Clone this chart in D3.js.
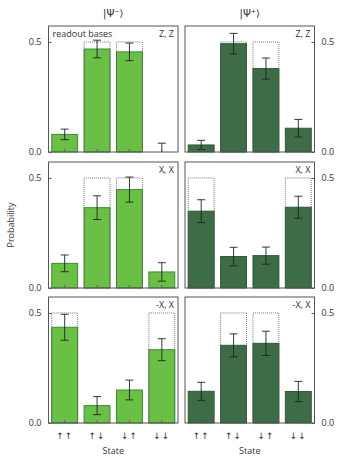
<!DOCTYPE html>
<html lang="en">
<head>
<meta charset="utf-8">
<title>Bell state readout</title>
<script src="https://cdn.jsdelivr.net/npm/d3@7"></script>
<style>
  body { margin: 0; background: #fff; }
  text { font-family: "Open Sans", "Noto Sans", sans-serif; fill: #333; }
</style>
</head>
<body>
<script>
 // states along the x axis
 var states = ["↑↑", "↑↓", "↓↑", "↓↓"];
 var bases = ["Z, Z", "X, X", "-X, X"];
 var stateNames = ["|Ψ⁻⟩", "|Ψ⁺⟩"];
 var yTicks = [0, 0.5];

 // measured probabilities, rows = readout bases
 var psiMinus = [
     [0.080, 0.468, 0.455, 0.0],
     [0.112, 0.365, 0.447, 0.073],
     [0.435, 0.079, 0.150, 0.333]
 ];
 var psiMinusErr = [
     [0.024, 0.040, 0.040, 0.040],
     [0.038, 0.054, 0.057, 0.042],
     [0.059, 0.041, 0.045, 0.050]
 ];
 var psiMinusIdeal = [
     [0, 0.5, 0.5, 0],
     [0, 0.5, 0.5, 0],
     [0.5, 0, 0, 0.5]
 ];
 var psiPlus = [
     [0.032, 0.492, 0.379, 0.108],
     [0.349, 0.143, 0.147, 0.367],
     [0.144, 0.353, 0.362, 0.143]
 ];
 var psiPlusErr = [
     [0.021, 0.047, 0.048, 0.040],
     [0.052, 0.042, 0.039, 0.050],
     [0.041, 0.052, 0.055, 0.046]
 ];
 var psiPlusIdeal = [
     [0, 0.5, 0.5, 0],
     [0.5, 0, 0, 0.5],
     [0, 0.5, 0.5, 0]
 ];

 var W = 351, H = 463;
 var colX = [48.5, 185];
 var panelW = 129.5;
 var rowY = [26, 162, 297];
 var panelH = 126;

 var fills = ["#6abf45", "#3e6c47"];
 var edges = ["#3f8a3a", "#2e5a37"];

 var svg = d3.select("body").append("svg")
     .attr("width", W)
     .attr("height", H);

 var y = d3.scaleLinear().domain([0, 0.5725]).range([panelH, 0]);
 var x = d3.scaleBand().domain(states).range([0, panelW])
     .paddingInner(0.2).paddingOuter(0.1);

 var cols = [
     {vals: psiMinus, err: psiMinusErr, ideal: psiMinusIdeal},
     {vals: psiPlus, err: psiPlusErr, ideal: psiPlusIdeal}
 ];

 cols.forEach(function (c, ci) {
     // column title
     svg.append("text")
        .attr("x", colX[ci] + panelW / 2)
        .attr("y", 17)
        .attr("text-anchor", "middle")
        .style("font-size", "10px")
        .style("font-family", "DejaVu Sans, sans-serif")
        .text(stateNames[ci]);

     bases.forEach(function (b, ri) {
         var g = svg.append("g")
             .attr("transform", "translate(" + colX[ci] + "," + rowY[ri] + ")");

         var rows = states.map(function (s, i) {
             return {s: s, v: c.vals[ri][i], e: c.err[ri][i], id: c.ideal[ri][i]};
         });

         g.selectAll("rect.bar")
          .data(rows.filter(function (d) { return d.v > 0; }))
          .enter().append("rect")
          .attr("class", "bar")
          .attr("x", function (d) { return x(d.s); })
          .attr("y", function (d) { return y(d.v); })
          .attr("width", x.bandwidth())
          .attr("height", function (d) { return panelH - y(d.v); })
          .style("fill", fills[ci])
          .style("stroke", edges[ci])
          .style("stroke-width", 1);

         // ideal values as dotted boxes
         g.selectAll("rect.ideal")
          .data(rows.filter(function (d) { return d.id > 0; }))
          .enter().append("rect")
          .attr("class", "ideal")
          .attr("x", function (d) { return x(d.s); })
          .attr("y", function (d) { return y(d.id); })
          .attr("width", x.bandwidth())
          .attr("height", function (d) { return panelH - y(d.id); })
          .style("fill", "none")
          .style("stroke", "#555")
          .style("stroke-width", 0.8)
          .style("stroke-dasharray", "1,1");

         // error bars
         var eb = g.selectAll("g.err")
             .data(rows)
             .enter().append("g")
             .attr("class", "err")
             .style("stroke", "#222")
             .style("stroke-width", 0.9);
         var cx = function (d) { return x(d.s) + x.bandwidth() / 2; };
         eb.append("line")
           .attr("x1", cx).attr("x2", cx)
           .attr("y1", function (d) { return y(d.v + d.e); })
           .attr("y2", function (d) { return y(Math.max(0, d.v - d.e)); });
         eb.append("line")
           .attr("x1", function (d) { return cx(d) - 4; })
           .attr("x2", function (d) { return cx(d) + 4; })
           .attr("y1", function (d) { return y(d.v + d.e); })
           .attr("y2", function (d) { return y(d.v + d.e); });
         eb.filter(function (d) { return d.v - d.e > 0; })
           .append("line")
           .attr("x1", function (d) { return cx(d) - 4; })
           .attr("x2", function (d) { return cx(d) + 4; })
           .attr("y1", function (d) { return y(d.v - d.e); })
           .attr("y2", function (d) { return y(d.v - d.e); });

         // x ticks, inward
         g.selectAll("line.xt")
          .data(states)
          .enter().append("line")
          .attr("x1", function (d) { return x(d) + x.bandwidth() / 2; })
          .attr("x2", function (d) { return x(d) + x.bandwidth() / 2; })
          .attr("y1", panelH).attr("y2", panelH - 3)
          .style("stroke", "#555").style("stroke-width", 0.8);

         // y axis, left for first column, right for second
         var ax = ci === 0 ? d3.axisLeft(y) : d3.axisRight(y);
         ax.tickValues(yTicks).tickFormat(d3.format(".1f"))
           .tickSizeInner(-3).tickSizeOuter(0).tickPadding(7);
         var ag = g.append("g")
             .attr("transform", "translate(" + (ci === 0 ? 0 : panelW) + ",0)")
             .call(ax);
         ag.select(".domain").remove();
         ag.selectAll("line").style("stroke", "#555");
         ag.selectAll("text")
           .style("font-size", "9px")
           .style("fill", "#333")
           .style("font-family", "Open Sans, sans-serif");

         // frame
         g.append("rect")
          .attr("width", panelW).attr("height", panelH)
          .style("fill", "none")
          .style("stroke", "#555")
          .style("stroke-width", 1);

         // basis label
         g.append("text")
          .attr("x", panelW - 4)
          .attr("y", 11)
          .attr("text-anchor", "end")
          .style("font-size", "9px")
          .text(b);

         if (ci === 0 && ri === 0) {
             g.append("text")
              .attr("x", 4).attr("y", 11)
              .style("font-size", "9px")
              .text("readout bases");
         }

         if (ri === bases.length - 1) {
             g.selectAll("text.st")
              .data(states)
              .enter().append("text")
              .attr("class", "st")
              .attr("x", function (d) { return x(d) + x.bandwidth() / 2; })
              .attr("y", panelH + 16)
              .attr("text-anchor", "middle")
              .style("font-size", "9px")
              .style("font-family", "DejaVu Sans, sans-serif")
              .style("letter-spacing", "1px")
              .text(function (d) { return d; });
             g.append("text")
              .attr("x", panelW / 2)
              .attr("y", panelH + 31)
              .attr("text-anchor", "middle")
              .style("font-size", "9px")
              .text("State");
         }
     });
 });

 svg.append("text")
    .attr("transform", "translate(14," + (rowY[1] + panelH / 2) + ") rotate(-90)")
    .attr("text-anchor", "middle")
    .style("font-size", "9px")
    .text("Probability");
</script>
</body>
</html>
